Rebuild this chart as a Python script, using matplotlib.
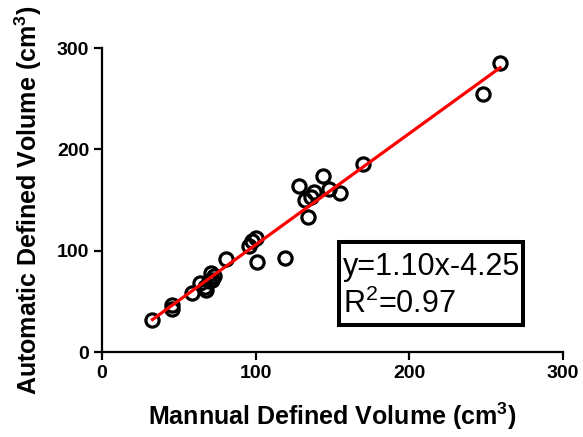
import numpy as np
import matplotlib.pyplot as plt
from matplotlib.patches import Rectangle

plt.rcParams['font.family'] = 'Liberation Sans'
plt.rcParams['mathtext.fontset'] = 'custom'
plt.rcParams['mathtext.rm'] = 'Liberation Sans'
plt.rcParams['mathtext.bf'] = 'Liberation Sans:bold'
plt.rcParams['mathtext.default'] = 'rm'

# Data (manual vs automatic volume, cm3)
manual = [33, 46, 46, 59, 64, 67, 68, 70, 71, 72, 73, 81, 96, 98, 100, 101,
          119, 128, 132, 134, 136, 138, 144, 148, 155, 170, 248, 259]
automatic = [32, 42, 46, 58, 68, 64, 61, 70, 78, 71, 75, 92, 105, 110, 113, 89,
             93, 164, 150, 133, 153, 158, 174, 161, 157, 186, 255, 285]

slope = 1.10
intercept = -4.25
fit_x = np.array([min(manual), max(manual)])
fit_y = slope * fit_x + intercept

fig = plt.figure(figsize=(5.83, 4.37), dpi=100)
ax = fig.add_axes([0.1745, 0.1945, 0.7915, 0.6955])

ax.plot(manual, automatic, 'o', mfc='none', mec='black', ms=9.5, mew=2.3,
        zorder=2)
ax.plot(fit_x, fit_y, color='#ff0000', lw=2.3, zorder=3)

ax.set_xlim(0, 300)
ax.set_ylim(0, 300)
ax.set_xticks([0, 100, 200, 300])
ax.set_yticks([0, 100, 200, 300])

for s in ['top', 'right']:
    ax.spines[s].set_visible(False)
for s in ['left', 'bottom']:
    ax.spines[s].set_linewidth(1.6)
ax.tick_params(width=1.6, length=6, labelsize=14, pad=3)
for lbl in ax.get_xticklabels() + ax.get_yticklabels():
    lbl.set_fontweight('bold')

ax.set_xlabel(r'Mannual Defined Volume (cm$^\mathbf{3}$)', fontsize=18,
              fontweight='bold', labelpad=14)
ax.set_ylabel(r'Automatic Defined Volume (cm$^\mathbf{3}$)', fontsize=18,
              fontweight='bold', labelpad=9)

# equation box
ax.add_patch(Rectangle((0.514, 0.089), 0.399, 0.273, transform=ax.transAxes,
                       fc='white', ec='black', lw=2.9, zorder=4,
                       clip_on=False))
ax.text(0.523, 0.253, 'y=1.10x-4.25', transform=ax.transAxes,
        fontsize=22, va='baseline', ha='left', zorder=5)
ax.text(0.523, 0.128, 'R$^2$=0.97', transform=ax.transAxes,
        fontsize=22, va='baseline', ha='left', zorder=5)

fig.savefig('out.png', dpi=100)
